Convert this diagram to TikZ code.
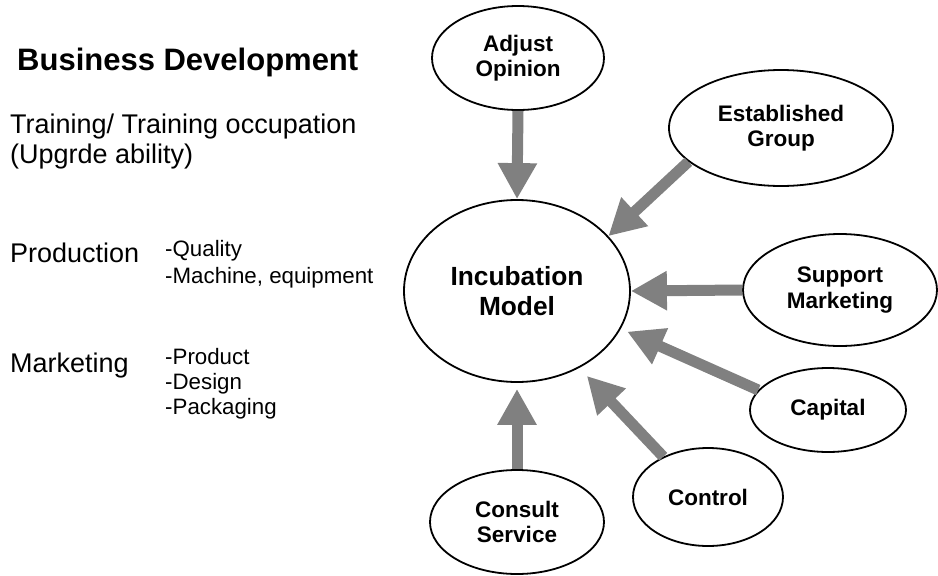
\documentclass[tikz,border=0pt]{standalone}
\usepackage{fontspec}
\setmainfont{Liberation Sans}
\usetikzlibrary{shapes.geometric,arrows.meta}
\definecolor{arrowgray}{gray}{0.5}
\begin{document}
\begin{tikzpicture}[x=1pt,y=-1pt,
  bubble/.style={ellipse, draw=black, line width=1.8pt, inner sep=0pt, align=center,
    font=\fontsize{22.5}{25.5}\selectfont\bfseries},
  flow/.style={draw=arrowgray, line width=11pt,
    -{Triangle[width=37pt,length=36pt]}},
  plain/.style={anchor=base west, inner sep=0pt},
  big/.style={plain, font=\fontsize{27}{30}\selectfont},
  small/.style={plain, font=\fontsize{22.3}{26}\selectfont}]
\useasboundingbox (0,0) rectangle (938,576);

% centre and satellites
\node[bubble, minimum width=226pt, minimum height=182pt,
  font=\fontsize{26.3}{30}\selectfont\bfseries] (inc) at (517,291) {Incubation\\Model};
\node[bubble, minimum width=172pt, minimum height=104pt] (adj) at (518,58) {Adjust\\Opinion};
\node[bubble, minimum width=224pt, minimum height=116pt] (est) at (781,128) {Established\\Group};
\node[bubble, minimum width=194pt, minimum height=112pt] (sup) at (840,290) {Support\\Marketing};
\node[bubble, minimum width=156pt, minimum height=84pt] (cap) at (828,410) {Capital};
\node[bubble, minimum width=150pt, minimum height=98pt] (ctl) at (708,497) {Control};
\node[bubble, minimum width=174pt, minimum height=104pt] (con) at (517,522) {Consult\\Service};

% inputs into the model
\draw[flow] (adj.south) -- (inc.north);
\draw[flow] (est.200) -- (inc.31);
\draw[flow] (sup.west) -- (inc.east);
\draw[flow, shorten >=7pt] (cap.164) -- (inc.340);
\draw[flow, shorten >=11pt] (ctl.138) -- (inc.309);
\draw[flow, shorten >=6pt] (con.north) -- (inc.south);

% left-hand text
\node[plain, font=\fontsize{31}{34}\selectfont\bfseries] (title) at (17,70) {Business Development};
\node[big] (tr1) at (10,133) {Training/ Training occupation};
\node[big] (tr2) at (10,163) {(Upgrde ability)};
\node[big] (prod) at (10,262) {Production};
\node[small] (p1) at (165,256) {-Quality};
\node[small] (p2) at (165,283) {-Machine, equipment};
\node[big] (mkt) at (10,372) {Marketing};
\node[small] (m1) at (165,364) {-Product};
\node[small] (m2) at (165,389) {-Design};
\node[small] (m3) at (165,414) {-Packaging};
\end{tikzpicture}
\end{document}
